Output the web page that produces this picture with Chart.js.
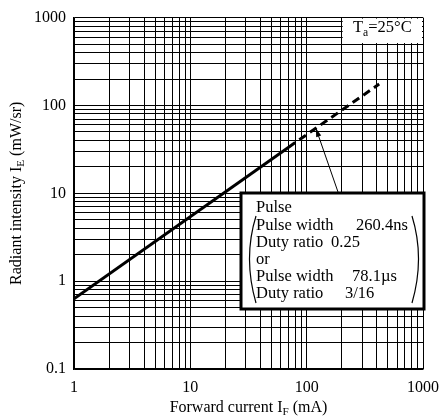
<!DOCTYPE html>
<html lang="en">
<head>
  <meta charset="UTF-8" />
  <title>Radiant intensity vs Forward current</title>
  <script src="https://cdn.jsdelivr.net/npm/chart.js"></script>
  <style>
    html, body { margin: 0; background: #fff; }
    #wrap { width: 448px; height: 419px; }
  </style>
</head>
<body>
<div id="wrap"><canvas id="chart" width="448" height="419"></canvas></div>
<script>
// data
const solidCurrent = [1, 70];
const solidIntensity = [0.63, 33.5];
const pulseCurrent = [70, 420];
const pulseIntensity = [33.5, 175];
const arrowPoint = [120, 55];

const xTickLabels = [1, 10, 100, 1000];
const yTickLabels = [0.1, 1, 10, 100, 1000];

const boxLines = [
  ['Pulse', ''],
  ['Pulse width', '260.4ns'],
  ['Duty ratio', '0.25'],
  ['or', ''],
  ['Pulse width', '78.1\u00b5s'],
  ['Duty ratio', '3/16']
];

const FONT = '"Liberation Serif", "Times New Roman", serif';

function logTicks(min, max) {
  const out = [];
  for (let d = min; d < max; d *= 10) {
    for (let m = 1; m < 10; m++) out.push({ value: +(d * m).toPrecision(3) });
  }
  out.push({ value: max });
  return out;
}

// draw text with subscript pieces: [[text, isSub], ...]
function subText(ctx, parts, x, y, size) {
  let w = 0;
  parts.forEach(p => {
    ctx.font = (p[1] ? size * 0.7 : size) + 'px ' + FONT;
    w += ctx.measureText(p[0]).width;
  });
  let cx = x - w / 2;
  parts.forEach(p => {
    ctx.font = (p[1] ? size * 0.7 : size) + 'px ' + FONT;
    ctx.fillText(p[0], cx, p[1] ? y + size * 0.28 : y);
    cx += ctx.measureText(p[0]).width;
  });
}

const extras = {
  id: 'extras',
  afterDatasetsDraw(chart) {
    const ctx = chart.ctx;
    const a = chart.chartArea;
    const xs = chart.scales.x, ys = chart.scales.y;
    ctx.save();
    ctx.fillStyle = '#000';
    ctx.textBaseline = 'middle';
    ctx.textAlign = 'left';

    // Ta box in top right cell
    const tx0 = xs.getPixelForValue(200), ty1 = ys.getPixelForValue(500);
    ctx.fillStyle = '#fff';
    ctx.fillRect(tx0 + 1, a.top + 1, a.right - tx0 - 2, ty1 - a.top - 2);
    ctx.fillStyle = '#000';
    subText(ctx, [['T', false], ['a', true], ['=25\u00b0C', false]], (tx0 + a.right) / 2, 28, 16.5);

    // annotation box
    const bx = 241, by = 193, bw = 183, bh = 116;
    ctx.fillStyle = '#fff';
    ctx.fillRect(bx, by, bw, bh);
    ctx.lineWidth = 3;
    ctx.strokeStyle = '#000';
    ctx.strokeRect(bx, by, bw, bh);
    ctx.fillStyle = '#000';
    ctx.font = '16.5px ' + FONT;
    const valX = [0, 356, 331, 0, 352, 345];
    boxLines.forEach((l, i) => {
      const y = 208 + i * 17.2;
      ctx.fillText(l[0], 256, y);
      if (l[1]) ctx.fillText(l[1], valX[i], y);
    });
    // big parentheses
    ctx.lineWidth = 1.2;
    ctx.beginPath();
    ctx.moveTo(256, 216);
    ctx.quadraticCurveTo(243, 258, 256, 303);
    ctx.stroke();
    ctx.beginPath();
    ctx.moveTo(412, 216);
    ctx.quadraticCurveTo(425, 258, 412, 303);
    ctx.stroke();

    // arrow from box to the curve
    const hx = xs.getPixelForValue(arrowPoint[0]), hy = ys.getPixelForValue(arrowPoint[1]);
    const sx = 338, sy = by - 1;
    const ang = Math.atan2(hy - sy, hx - sx);
    ctx.lineWidth = 1;
    ctx.beginPath();
    ctx.moveTo(sx, sy);
    ctx.lineTo(hx, hy);
    ctx.stroke();
    ctx.beginPath();
    ctx.moveTo(hx, hy);
    ctx.lineTo(hx - 9 * Math.cos(ang - 0.3), hy - 9 * Math.sin(ang - 0.3));
    ctx.lineTo(hx - 9 * Math.cos(ang + 0.3), hy - 9 * Math.sin(ang + 0.3));
    ctx.closePath();
    ctx.fill();

    // axis titles
    ctx.textBaseline = 'middle';
    subText(ctx, [['Forward current I', false], ['F', true], [' (mA)', false]], (a.left + a.right) / 2, 408, 16);
    ctx.translate(17, (a.top + a.bottom) / 2);
    ctx.rotate(-Math.PI / 2);
    subText(ctx, [['Radiant intensity I', false], ['E', true], [' (mW/sr)', false]], 0, 0, 16);
    ctx.restore();
  }
};

new Chart(document.getElementById('chart'), {
  type: 'line',
  data: {
    datasets: [
      {
        data: solidCurrent.map((x, i) => ({ x, y: solidIntensity[i] })),
        borderColor: '#000', borderWidth: 3, pointRadius: 0, fill: false
      },
      {
        data: pulseCurrent.map((x, i) => ({ x, y: pulseIntensity[i] })),
        borderColor: '#000', borderWidth: 3, borderDash: [8, 5], pointRadius: 0, fill: false
      }
    ]
  },
  options: {
    responsive: false,
    animation: false,
    events: [],
    layout: { padding: { top: 15, right: 19, left: 0, bottom: 0 } },
    plugins: { legend: { display: false }, tooltip: { enabled: false } },
    scales: {
      x: {
        type: 'logarithmic', min: 1, max: 1000,
        afterBuildTicks: s => { s.ticks = logTicks(1, 1000); },
        afterFit: s => { s.height = 50; },
        grid: { color: '#000', lineWidth: 1, drawTicks: false },
        border: { color: '#000', width: 1.5 },
        ticks: {
          autoSkip: false, maxRotation: 0, padding: 9, color: '#000',
          font: { family: FONT, size: 16 },
          callback: v => xTickLabels.includes(v) ? String(v) : ''
        }
      },
      y: {
        type: 'logarithmic', min: 0.1, max: 1000,
        afterBuildTicks: s => { s.ticks = logTicks(0.1, 1000); },
        afterFit: s => { s.width = 74; },
        grid: { color: '#000', lineWidth: 1, drawTicks: false },
        border: { color: '#000', width: 1.5 },
        ticks: {
          autoSkip: false, padding: 8, color: '#000',
          font: { family: FONT, size: 16 },
          callback: v => yTickLabels.includes(v) ? String(v) : ''
        }
      }
    }
  },
  plugins: [extras]
});
</script>
</body>
</html>
